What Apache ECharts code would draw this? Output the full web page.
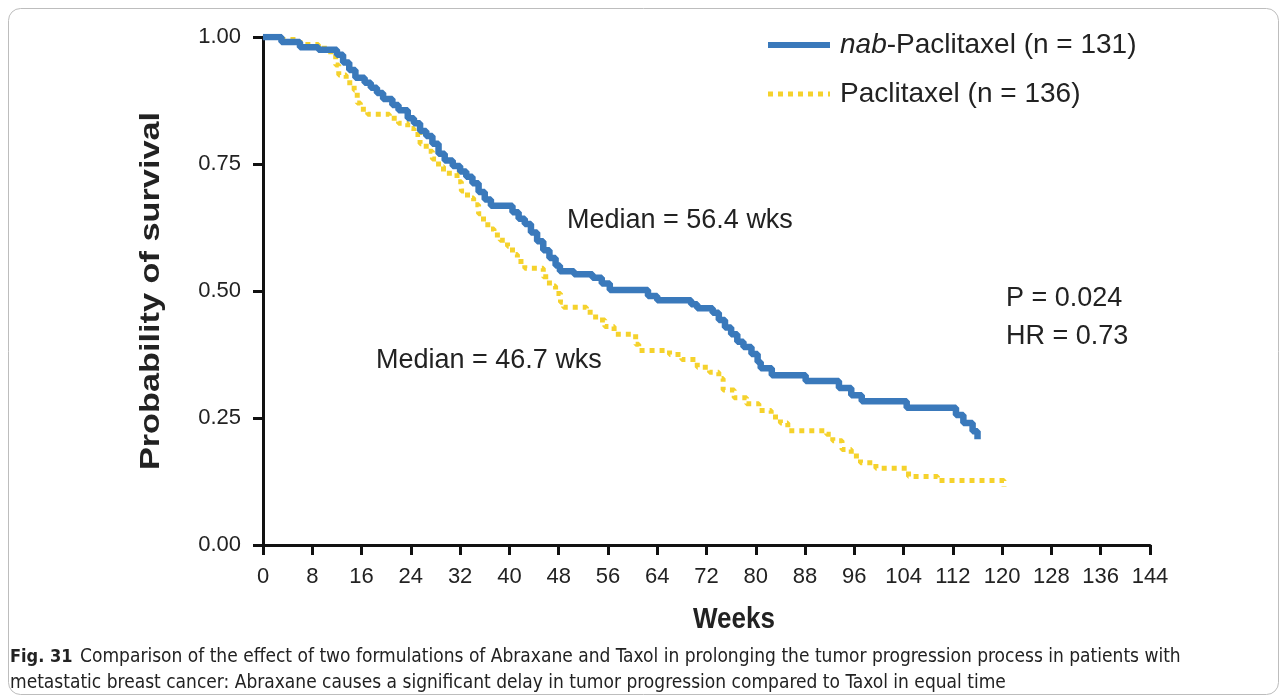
<!DOCTYPE html>
<html><head><meta charset="utf-8">
<script src="https://cdn.jsdelivr.net/npm/echarts@6/dist/echarts.min.js"></script>
<style>html,body{margin:0;padding:0;background:#fff}#c{width:1287px;height:697px}</style>
</head><body><div id="c"></div>
<script>
// ---- data ----
const seriesNames = ['nab-Paclitaxel (n = 131)', 'Paclitaxel (n = 136)'];
const nabWeeks = [0,3,6,9,12,13,14,15,16.5,17.5,18.5,19.5,21,22,23.5,24.5,25.5,26.5,27.5,28.5,29.5,30.8,32,33,34,35,36,37,40.5,41.5,42.5,43.5,44.5,45.5,46.5,47.5,48.2,50.5,53.5,55,56.3,62.5,64,69.5,70.5,73,74,75,76,77,78,79.3,80.3,80.8,82.6,88.1,93.5,95.5,97.2,104.5,112.5,113.7,115.2,116];
const nabSurv  = [1.0,0.99,0.98,0.975,0.965,0.95,0.935,0.92,0.91,0.9,0.89,0.878,0.866,0.856,0.84,0.83,0.815,0.805,0.79,0.77,0.757,0.746,0.735,0.725,0.712,0.695,0.68,0.668,0.655,0.642,0.632,0.615,0.598,0.58,0.565,0.55,0.539,0.533,0.526,0.515,0.502,0.49,0.482,0.474,0.466,0.457,0.443,0.428,0.415,0.4,0.39,0.376,0.36,0.348,0.334,0.323,0.309,0.295,0.283,0.27,0.256,0.24,0.224,0.208];
const pacWeeks = [0,3,6,9,11,11.8,12.3,13.5,14.8,15.3,15.8,17,20.5,22,23.5,24.5,25.5,26.5,27.5,28.5,29.3,31.5,32.2,33.2,34.2,35,35.8,36.5,37.5,38.5,39.7,40.5,41.3,42.5,45.5,46.5,47.5,48.3,48.8,52.5,54,55.5,57,60.5,61,66,68,70.5,72.5,74,74.7,76.5,78.5,80.5,82.5,84,85.2,91.5,92.5,94,95.5,97,99.5,104.8,109.5,120.3];
const pacSurv  = [1.0,0.995,0.985,0.978,0.965,0.945,0.925,0.91,0.895,0.87,0.858,0.848,0.84,0.83,0.82,0.808,0.79,0.775,0.76,0.745,0.732,0.715,0.697,0.683,0.67,0.652,0.636,0.622,0.61,0.6,0.588,0.572,0.558,0.545,0.528,0.51,0.495,0.478,0.468,0.458,0.443,0.43,0.415,0.395,0.383,0.375,0.365,0.35,0.34,0.328,0.305,0.29,0.278,0.265,0.252,0.24,0.225,0.218,0.205,0.188,0.175,0.162,0.151,0.135,0.127,0.115];
const xAxisRange = [0, 144, 8];      // min, max, interval (weeks)
const yAxisRange = [0, 1, 0.25];
const axisTitles = ['Weeks', 'Probability of survival'];
const notes = ['Median = 56.4 wks', 'Median = 46.7 wks', 'P = 0.024', 'HR = 0.73'];
const captionBold = 'Fig. 31';
const captionLines = ['Comparison of the effect of two formulations of Abraxane and Taxol in prolonging the tumor progression process in patients with',
  'metastatic breast cancer: Abraxane causes a significant delay in tumor progression compared to Taxol in equal time'];

const BLUE = '#3a79bb', YELLOW = '#f5d22c';
const FONT = '"Liberation Sans", Arial, sans-serif';
const CAPFONT = '"Liberation Sans Narrow", "DejaVu Sans Condensed", "Liberation Sans", sans-serif';

const chart = echarts.init(document.getElementById('c'), null, {renderer: 'canvas'});
const pairs = (xs, ys) => xs.map((x, i) => [x, ys[i]]);

const option = {
  backgroundColor: '#fff',
  animation: false,
  grid: {left: 263, right: 137, top: 37, bottom: 152, containLabel: false},
  legend: {
    orient: 'vertical', left: 760, top: 26, itemWidth: 62, itemHeight: 28, itemGap: 21,
    itemStyle: {opacity: 0},
    data: [
      {name: seriesNames[0], lineStyle: {width: 6, color: BLUE}},
      {name: seriesNames[1], lineStyle: {width: 5, color: YELLOW, type: [5, 5]}}
    ],
    textStyle: {fontFamily: FONT, fontSize: 28, lineHeight: 28, color: '#222', padding: [0,0,0,5],
      rich: {i: {fontFamily: FONT, fontSize: 28, lineHeight: 28, fontStyle: 'italic', color: '#222'},
             n: {fontFamily: FONT, fontSize: 28, lineHeight: 28, color: '#222'}}},
    formatter: name => name.startsWith('nab') ? '{i|nab}{n|' + name.slice(3) + '}' : '{n|' + name + '}'
  },
  xAxis: {
    type: 'value', min: xAxisRange[0], max: xAxisRange[1], interval: xAxisRange[2],
    axisLine: {show: true, onZero: false, lineStyle: {color: '#111', width: 3}},
    axisTick: {show: true, length: 10, lineStyle: {color: '#111', width: 3}},
    axisLabel: {fontFamily: FONT, fontSize: 22, color: '#222', margin: 21},
    splitLine: {show: false}
  },
  yAxis: {
    type: 'value', min: yAxisRange[0], max: yAxisRange[1], interval: yAxisRange[2],
    axisLine: {show: true, onZero: false, lineStyle: {color: '#111', width: 3}},
    axisTick: {show: true, length: 10, lineStyle: {color: '#111', width: 3}},
    axisLabel: {fontFamily: FONT, fontSize: 22, color: '#222', margin: 22, formatter: v => v.toFixed(2)},
    splitLine: {show: false}
  },
  series: [
    {name: seriesNames[0], type: 'line', step: 'end', symbol: 'none', data: pairs(nabWeeks, nabSurv),
     lineStyle: {color: BLUE, width: 6.5}, itemStyle: {color: BLUE}, z: 3},
    {name: seriesNames[1], type: 'line', step: 'end', symbol: 'none', data: pairs(pacWeeks, pacSurv),
     lineStyle: {color: YELLOW, width: 5, type: [5, 5]}, itemStyle: {color: YELLOW}, z: 2}
  ],
  graphic: [
    {type: 'rect', shape: {x: 8.5, y: 8.5, width: 1270, height: 686, r: 12}, style: {fill: 'none', stroke: '#bdbdbd', lineWidth: 1}, silent: true},
    {type: 'text', x: 152, y: 291, rotation: Math.PI / 2, scaleX: 1.27, style: {text: axisTitles[1], font: 'bold 27px ' + FONT, fill: '#222', textAlign: 'center', textVerticalAlign: 'middle'}},
    {type: 'text', x: 734, y: 620, scaleY: 1.15, style: {text: axisTitles[0], font: 'bold 26px ' + FONT, fill: '#222', textAlign: 'center', textVerticalAlign: 'middle'}},
    {type: 'text', x: 567, y: 221, style: {text: notes[0], font: '27px ' + FONT, fill: '#222', textVerticalAlign: 'middle'}},
    {type: 'text', x: 376, y: 361, style: {text: notes[1], font: '27px ' + FONT, fill: '#222', textVerticalAlign: 'middle'}},
    {type: 'text', x: 1006, y: 299, style: {text: notes[2], font: '27px ' + FONT, fill: '#222', textVerticalAlign: 'middle'}},
    {type: 'text', x: 1006, y: 337, style: {text: notes[3], font: '27px ' + FONT, fill: '#222', textVerticalAlign: 'middle'}},
    {type: 'text', x: 10, y: 657, style: {text: captionBold, font: 'bold 18px ' + CAPFONT, fill: '#222', textVerticalAlign: 'middle'}},
    {type: 'text', x: 80, y: 657, style: {text: captionLines[0], font: '19px ' + CAPFONT, fill: '#222', textVerticalAlign: 'middle'}},
    {type: 'text', x: 10, y: 683, style: {text: captionLines[1], font: '19px ' + CAPFONT, fill: '#222', textVerticalAlign: 'middle'}}
  ]
};
chart.setOption(option);
</script></body></html>
